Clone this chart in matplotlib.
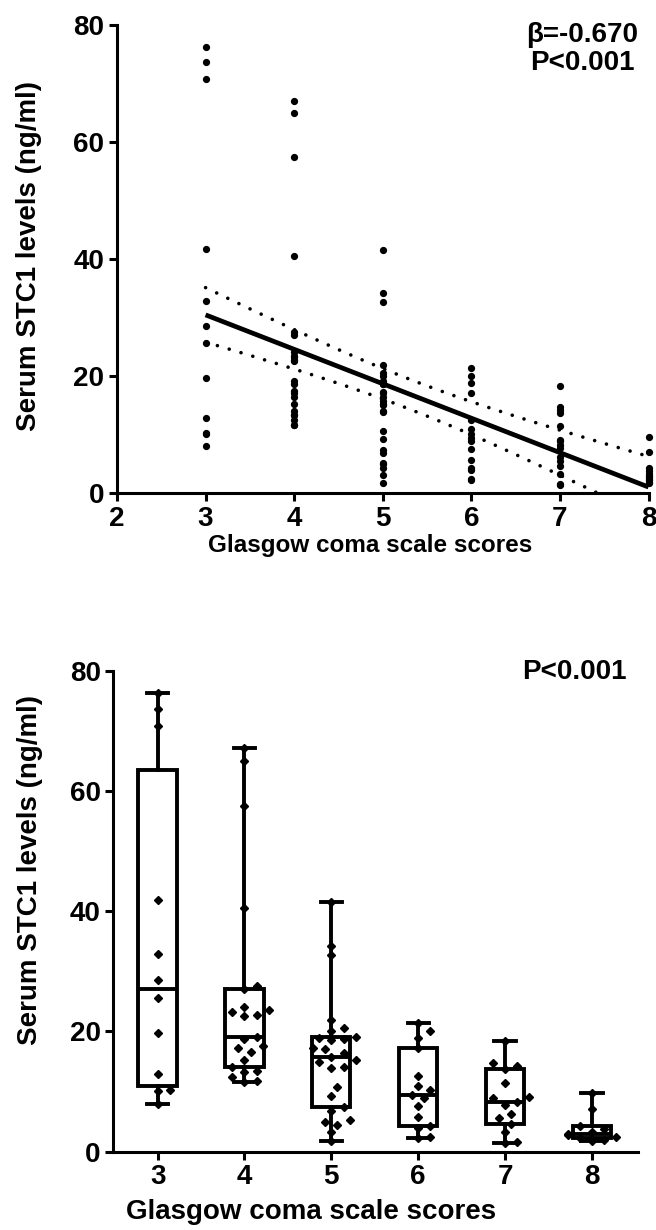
import numpy as np
import matplotlib
matplotlib.use('Agg')
from matplotlib import pyplot as plt

## Data ##
# serum STC1 (ng/ml) by Glasgow coma scale score
gcs_scores = [3, 4, 5, 6, 7, 8]
stc1_gcs3 = [76.3, 73.6, 70.8, 41.8, 32.9, 28.6, 25.6, 19.7, 12.9, 10.3, 10.1, 8.0]
stc1_gcs4 = [11.6, 11.7, 12.5, 13.3, 13.4, 14.1, 15.3, 16.5, 17.2, 17.5, 18.7, 19.1,
             22.6, 22.8, 23.3, 23.5, 24.1, 27.1, 27.6, 40.6, 57.5, 65.0, 67.1]
stc1_gcs5 = [1.7, 3.2, 4.4, 5.0, 5.2, 6.8, 7.4, 9.3, 10.7, 13.9, 14.1, 15.0, 15.2, 15.7,
             16.4, 17.1, 17.3, 18.6, 18.7, 18.9, 19.1, 20.1, 20.6, 21.9, 32.7, 34.2, 41.6]
stc1_gcs6 = [2.2, 2.5, 3.9, 4.3, 5.7, 7.6, 9.0, 9.5, 10.2, 10.9, 12.6, 17.2, 18.9, 20.0, 21.4]
stc1_gcs7 = [1.4, 1.6, 3.3, 4.6, 5.6, 6.2, 7.8, 8.3, 8.9, 9.1, 11.5, 13.8, 14.3, 14.8, 18.4]
stc1_gcs8 = [1.8, 2.0, 2.2, 2.5, 2.7, 3.0, 3.3, 3.8, 4.3, 7.1, 9.7]
groups = [stc1_gcs3, stc1_gcs4, stc1_gcs5, stc1_gcs6, stc1_gcs7, stc1_gcs8]

beta_text = 'β=-0.670\nP<0.001'
p_text = 'P<0.001'
xlabel = 'Glasgow coma scale scores'
ylabel = 'Serum STC1 levels (ng/ml)'

plt.rcParams['font.family'] = ['Liberation Sans', 'DejaVu Sans']
plt.rcParams['font.weight'] = 'bold'

LW = 2.2
W, H = 656, 1230


def style_axes(ax):
    for side in ['top', 'right']:
        ax.spines[side].set_visible(False)
    for side in ['left', 'bottom']:
        ax.spines[side].set_linewidth(LW)
    ax.tick_params(width=LW, length=6, labelsize=20, pad=3)
    for lab in ax.get_xticklabels() + ax.get_yticklabels():
        lab.set_fontweight('bold')


def spread(vals, step=0.07, xpx=86.8, ypx=6.01, min_d=9.0):
    # simple column scatter: nudge points sideways so they don't overlap
    vals = np.asarray(vals)
    offs = np.zeros(len(vals))
    placed = []
    for i in np.argsort(vals):
        y = vals[i] * ypx
        for k in [0, 1, -1, 2, -2, 3, -3, 4, -4]:
            x = k * step * xpx
            if all(np.hypot(x - px, y - py) >= min_d for px, py in placed):
                break
        placed.append((x, y))
        offs[i] = x / xpx
    return offs


def px_text(x, y, s, size, **kw):
    fig.text(x / W, 1 - y / H, s, ha='center', va='center',
             fontsize=size, fontweight='bold', **kw)


fig = plt.figure(figsize=(W / 100, H / 100), dpi=100)

## Top: scatter with linear fit ##
ax1 = fig.add_axes([117 / W, 1 - 493.3 / H, (648.5 - 117) / W, (493.3 - 25) / H])
xs = np.concatenate([[g] * len(v) for g, v in zip(gcs_scores, groups)])
ys = np.concatenate(groups)
ax1.plot(xs, ys, 'o', color='black', ms=4.2, clip_on=False, zorder=3)

slope, intercept = np.polyfit(xs, ys, 1)
n = len(xs)
resid = ys - (slope * xs + intercept)
s = np.sqrt(np.sum(resid ** 2) / (n - 2))
sxx = np.sum((xs - xs.mean()) ** 2)
t95 = 1.984
xf = np.linspace(3, 8, 100)
yf = slope * xf + intercept
half = t95 * s * np.sqrt(1 / n + (xf - xs.mean()) ** 2 / sxx)
ax1.plot(xf, yf, color='black', lw=3.4, solid_capstyle='butt', zorder=4)
for band in [yf + half, yf - half]:
    ax1.plot(xf, band, color='black', lw=2.6, linestyle=(0, (0.01, 3.4)),
             dash_capstyle='round', zorder=4)

ax1.set_xlim(2, 8)
ax1.set_ylim(0, 80)
ax1.set_xticks(range(2, 9))
ax1.set_yticks(range(0, 81, 20))
style_axes(ax1)
px_text(370, 546, xlabel, 17.5)
px_text(29, 256, ylabel, 20, rotation=90)
px_text(582, 49, beta_text, 20, linespacing=1.12)

## Bottom: box plot with points ##
ax2 = fig.add_axes([113.3 / W, 1 - 1151.7 / H, (638 - 113.3) / W, 481 / H])
stats = []
for g, v in zip(gcs_scores, groups):
    q1, med, q3 = np.percentile(v, [25, 50, 75], method='weibull')
    stats.append(dict(med=med, q1=q1, q3=q3, whislo=min(v), whishi=max(v), fliers=[]))
ax2.bxp(stats, positions=gcs_scores, widths=0.44, capwidths=0.245, showfliers=False,
        patch_artist=True,
        boxprops=dict(facecolor='white', edgecolor='black', linewidth=2.8),
        whiskerprops=dict(color='black', linewidth=2.8),
        capprops=dict(color='black', linewidth=2.8),
        medianprops=dict(color='black', linewidth=2.8))
for g, v in zip(gcs_scores, groups):
    ax2.plot(g + spread(v), v, 'D', color='black', ms=4.0, zorder=5, clip_on=False)

ax2.set_xlim(2.49, 8.53)
ax2.set_ylim(0, 80)
ax2.set_xticks(gcs_scores)
ax2.set_xticklabels([str(g) for g in gcs_scores])
ax2.set_yticks(range(0, 81, 20))
style_axes(ax2)
px_text(311, 1212, xlabel, 20)
px_text(30, 870, ylabel, 20, rotation=90)
px_text(574, 672, p_text, 20)

fig.savefig('out.png', dpi=100)
